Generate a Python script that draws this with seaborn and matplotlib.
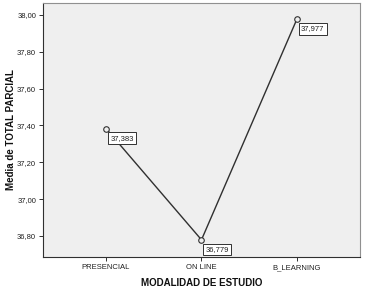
import matplotlib
matplotlib.use("Agg")
import matplotlib.pyplot as plt
import seaborn as sns
import pandas as pd

categories = ["PRESENCIAL", "ON LINE", "B_LEARNING"]
means = [37.383, 36.779, 37.977]
labels = ["37,383", "36,779", "37,977"]
yticks = [36.80, 37.00, 37.20, 37.40, 37.60, 37.80, 38.00]
ytick_labels = ["36,80", "37,00", "37,20", "37,40", "37,60", "37,80", "38,00"]

sns.set_style("white")
plt.rcParams["font.family"] = ["Liberation Sans", "DejaVu Sans"]

df = pd.DataFrame({"modalidad": categories, "media": means})
df["pos"] = range(len(categories))

fig = plt.figure(figsize=(3.65, 2.92), dpi=100)
ax = fig.add_axes([0.118, 0.12, 0.868, 0.87])
ax.set_facecolor("#efefef")

sns.lineplot(data=df, x="pos", y="media", ax=ax, color="#303030", lw=1.0,
             marker="o", markersize=4, markerfacecolor="#efefef",
             markeredgecolor="#303030", markeredgewidth=0.8)

for x, y, t in zip(df["pos"], df["media"], labels):
    ax.annotate(t, (x, y), xytext=(3, -7), textcoords="offset points",
                fontsize=5.5, color="#202020", va="center", ha="left",
                bbox=dict(boxstyle="square,pad=0.3", fc="white", ec="#303030", lw=0.7))

ax.set_xlim(-0.66, 2.66)
ax.set_ylim(36.686, 38.065)
ax.set_xticks(df["pos"])
ax.set_xticklabels(categories, fontsize=5.5, color="#202020")
ax.set_yticks(yticks)
ax.set_yticklabels(ytick_labels, fontsize=5.5, color="#202020")
ax.tick_params(axis="both", length=3, width=0.7, color="#303030", pad=2, left=True, bottom=True)
for s in ax.spines.values():
    s.set_color("#909090")
    s.set_linewidth(0.8)
ax.spines["left"].set_color("#303030")
ax.spines["bottom"].set_color("#303030")

ax.set_xlabel("MODALIDAD DE ESTUDIO", fontsize=7, fontweight="bold", color="#101010", labelpad=5)
ax.set_ylabel("Media de TOTAL PARCIAL", fontsize=7, fontweight="bold", color="#101010")
ax.yaxis.set_label_coords(-0.085, 0.5)

fig.savefig("out.png", dpi=100)
